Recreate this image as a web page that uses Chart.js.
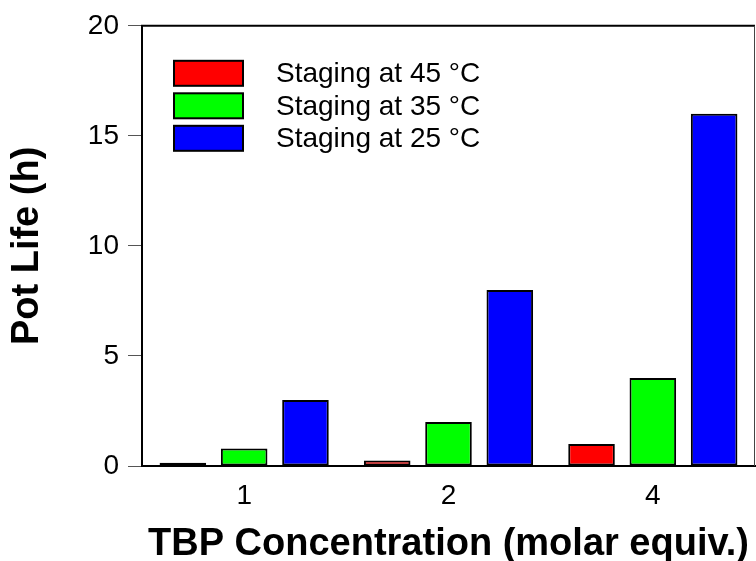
<!DOCTYPE html>
<html>
<head>
<meta charset="utf-8">
<script src="https://cdn.jsdelivr.net/npm/chart.js@4.4.1/dist/chart.umd.min.js"></script>
<style>
  html, body { margin: 0; padding: 0; background: #fff; }
  #wrap { width: 756px; height: 561px; }
</style>
</head>
<body>
<div id="wrap"><canvas id="c" width="756" height="561"></canvas></div>
<script>
const categories = ['1', '2', '4'];
const seriesLabels = ['Staging at 45 °C', 'Staging at 35 °C', 'Staging at 25 °C'];
const staging45 = [0.15, 0.25, 1.0];
const staging35 = [0.8, 2.0, 4.0];
const staging25 = [3.0, 8.0, 16.0];
const yTicks = [0, 5, 10, 15, 20];
const seriesColors = ['#ff0000', '#00ff00', '#0000ff'];

const FONT = "'Liberation Sans', Arial, sans-serif";

const framePlugin = {
  id: 'frame',
  afterDatasetsDraw(chart) {
    const { ctx, chartArea: a } = chart;
    ctx.save();
    ctx.strokeStyle = '#000';
    ctx.lineWidth = 2;
    ctx.beginPath();
    ctx.moveTo(a.left - 1, a.top);
    ctx.lineTo(a.right, a.top);
    ctx.stroke();
    ctx.lineWidth = 1;
    ctx.strokeStyle = '#444';
    ctx.beginPath();
    ctx.moveTo(a.right - 0.5, a.top);
    ctx.lineTo(a.right - 0.5, a.bottom);
    ctx.stroke();
    ctx.restore();
  }
};

const legendPlugin = {
  id: 'boxLegend',
  afterDraw(chart) {
    const { ctx, chartArea: a } = chart;
    ctx.save();
    const x0 = a.left + 32, y0 = a.top + 35, w = 69, h = 25, step = 32.5;
    chart.data.datasets.forEach((ds, i) => {
      const y = y0 + i * step;
      ctx.fillStyle = ds.backgroundColor;
      ctx.fillRect(x0, y, w, h);
      ctx.strokeStyle = '#000';
      ctx.lineWidth = 2;
      ctx.strokeRect(x0, y, w, h);
      ctx.fillStyle = '#000';
      ctx.font = '28px ' + FONT;
      ctx.textBaseline = 'middle';
      ctx.textAlign = 'left';
      ctx.fillText(ds.label, x0 + 102, y + h / 2 + 1);
    });
    ctx.restore();
  }
};

const datasets = [staging45, staging35, staging25].map((d, i) => ({
  label: seriesLabels[i],
  data: d,
  backgroundColor: seriesColors[i],
  borderColor: '#000',
  borderWidth: 2,
  borderSkipped: false,
  categoryPercentage: 0.9,
  barPercentage: 0.76
}));

new Chart(document.getElementById('c'), {
  type: 'bar',
  data: { labels: categories, datasets },
  options: {
    responsive: false,
    animation: false,
    devicePixelRatio: 1,
    layout: { padding: { top: 24, right: 1, left: 0, bottom: 0 } },
    plugins: { legend: { display: false }, tooltip: { enabled: false } },
    scales: {
      x: {
        grid: { display: true, drawOnChartArea: false, drawTicks: false },
        border: { display: true, width: 2, color: '#000' },
        ticks: { color: '#000', font: { family: FONT, size: 28 }, padding: 13 },
        title: {
          display: true,
          text: 'TBP Concentration (molar equiv.)',
          color: '#000',
          font: { family: FONT, size: 38, weight: 'bold', lineHeight: 1 },
          padding: { top: 0, bottom: -3 }
        },
        afterFit(scale) { scale.height = 95; }
      },
      y: {
        min: 0,
        max: 20,
        afterBuildTicks(scale) { scale.ticks = yTicks.map(v => ({ value: v })); },
        grid: { display: true, drawOnChartArea: false, drawTicks: true, tickLength: 14, color: '#555', lineWidth: 1 },
        border: { display: true, width: 2, color: '#000' },
        ticks: { color: '#000', font: { family: FONT, size: 28 }, padding: 9 },
        title: {
          display: true,
          text: 'Pot Life (h)',
          color: '#000',
          font: { family: FONT, size: 38, weight: 'bold', lineHeight: 1 },
          padding: { top: 9, bottom: 0 }
        },
        afterFit(scale) { scale.width = 142; }
      }
    }
  },
  plugins: [framePlugin, legendPlugin]
});
</script>
</body>
</html>
